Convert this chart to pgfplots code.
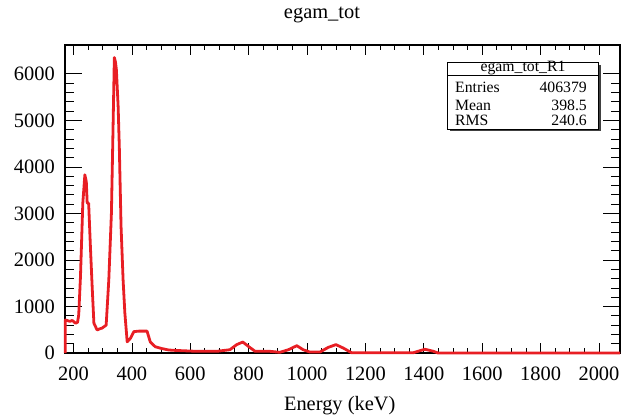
\documentclass[border=0pt]{standalone}
\usepackage{pgfplots}
\pgfplotsset{compat=1.18}
\usepackage{fontspec}
\setmainfont{Liberation Serif}
\definecolor{histred}{RGB}{232,30,36}
\begin{document}
\fontsize{20.5}{24}\selectfont
\begin{tikzpicture}[x=1bp,y=1bp]
\useasboundingbox (0,0) rectangle (633,417);
\begin{axis}[
  at={(65bp,64bp)}, anchor=south west,
  scale only axis, width=555bp, height=308bp,
  xmin=171, xmax=2072, ymin=0, ymax=6620,
  clip=false,
  xtick={200,400,...,2000}, ytick={0,1000,...,6000},
  minor x tick num=3, minor y tick num=4,
  tick align=inside,
  xtick style={/pgfplots/major tick length=10bp,/pgfplots/minor tick length=5bp, line width=0.7bp, black},
  ytick style={/pgfplots/major tick length=17bp,/pgfplots/minor tick length=9bp, line width=0.7bp, black},
  axis line style={line width=1.1bp},
  /pgf/number format/assume math mode=true,
  /pgf/number format/set thousands separator={},
  xticklabel style={anchor=base, yshift=-27bp, inner sep=0pt},
  yticklabel style={anchor=east, inner sep=0pt, xshift=-10bp},
  title={egam\_tot},
  title style={at={(0.463,1)}, anchor=base, yshift=20.7bp, inner sep=0pt},
  xlabel={Energy (keV)},
  xlabel style={at={(0.495,0)}, anchor=base, yshift=-57bp, inner sep=0pt},
]
\addplot[histred, line width=2.8bp, sharp plot, line join=round] coordinates {
(172,0) (172,710) (188,680) (196,700) (207,640) (214,660) (218,820) (224,1640)
(232,3220) (239,3830) (244,3680) (247,3220) (252,3220) (258,2290) (264,1430)
(270,640) (281,495) (290,520) (298,535) (312,600) (321,1570) (330,3010)
(335,4650) (340,6350) (344,6250) (347,6090) (353,5300) (357,4440) (363,2720)
(370,1570) (376,860) (384,240) (395,315) (407,460) (424,470) (452,470)
(463,240) (480,135) (503,95) (526,65) (542,58) (622,36) (691,36) (736,71)
(759,180) (780,236) (799,143) (822,36) (873,36) (907,15) (936,70) (965,157)
(987,70) (1010,20) (1044,20) (1073,122) (1099,180) (1124,107) (1147,25)
(1153,4) (1363,4) (1387,50) (1404,80) (1431,40) (1449,0) (2072,0)
};
\end{axis}
% statistics box
\draw[line width=1.6bp, black!75] (600,352) -- (600,286.5) -- (449.5,286.5);
\draw[line width=0.8bp, fill=white] (447.3,288) rectangle (598.3,354.3);
\draw[line width=0.8bp] (447.3,342) -- (598.3,342);
\begingroup\fontsize{15.8}{18}\selectfont
\node[anchor=base, inner sep=0pt] at (523,345.3) {egam\_tot\_R1};
\node[anchor=base west, inner sep=0pt] at (455,324.3) {Entries};
\node[anchor=base west, inner sep=0pt] at (455,307) {Mean};
\node[anchor=base west, inner sep=0pt] at (455,292) {RMS};
\node[anchor=base east, inner sep=0pt] at (587,324.3) {406379};
\node[anchor=base east, inner sep=0pt] at (587,307) {398.5};
\node[anchor=base east, inner sep=0pt] at (587,292) {240.6};
\endgroup
\end{tikzpicture}
\end{document}
